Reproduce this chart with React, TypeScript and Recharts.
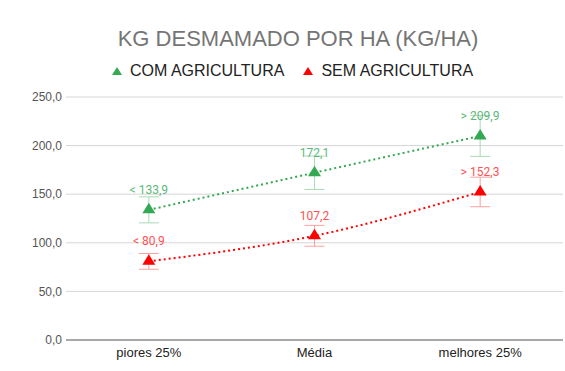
import React from 'react';
import { ComposedChart, Line, XAxis, YAxis, CartesianGrid, ErrorBar, LabelList } from 'recharts';

const categories = ['piores 25%', 'Média', 'melhores 25%'];
const comAgricultura = [133.9, 172.1, 209.9];
const semAgricultura = [80.9, 107.2, 152.3];
const comErro = [13.4, 17.2, 21.0];
const semErro = [8.1, 10.7, 15.2];
const comRotulos = ['< 133,9', '172,1', '> 209,9'];
const semRotulos = ['< 80,9', '107,2', '> 152,3'];
const yTicks = [0, 50, 100, 150, 200, 250];
const titulo = 'KG DESMAMADO POR HA (KG/HA)';
const serieNomes = ['COM AGRICULTURA', 'SEM AGRICULTURA'];

const GREEN = '#34a853';
const RED = '#ff0000';
const GREEN_LABEL = '#5cb97b';
const RED_LABEL = '#ff5252';
const GREEN_ERR = '#a9dbb7';
const RED_ERR = '#ff9f9f';

const data = categories.map((c, i) => ({
  cat: c,
  com: comAgricultura[i],
  sem: semAgricultura[i],
  comErr: comErro[i],
  semErr: semErro[i],
  comLbl: comRotulos[i],
  semLbl: semRotulos[i],
}));

const FONT = 'Arial, "Liberation Sans", sans-serif';
const LFONT = 'Roboto, Arial, sans-serif';

const Triangle = (color: string) => (props: any) => {
  const { cx, cy } = props;
  if (cx == null || cy == null) return null;
  const p = `${cx - 6.5},${cy + 3.5} ${cx + 6.5},${cy + 3.5} ${cx},${cy - 7}`;
  return <polygon key={`t-${cx}-${cy}`} points={p} fill={color} />;
};

const makeLabel = (color: string) => (props: any) => {
  const { x, y, value } = props;
  return (
    <text x={x} y={y - 20} textAnchor="middle" dominantBaseline="central" fill={color} fontSize={12} fontFamily={LFONT}>
      {value}
    </text>
  );
};

const fmt = (v: number) => v.toFixed(1).replace('.', ',');

const LegendTri = ({ color }: { color: string }) => (
  <svg width={12} height={10} style={{ display: 'block' }}>
    <polygon points="1,9 11,9 6,1" fill={color} />
  </svg>
);

export default function App() {
  return (
    <div style={{ position: 'absolute', left: 0, top: 0, width: 565, height: 371, background: '#fff', fontFamily: FONT }}>
      <div style={{ position: 'absolute', left: 0, top: 26, width: 596, textAlign: 'center', fontSize: 22, color: '#757575', lineHeight: '26px', whiteSpace: 'nowrap' }}>
        {titulo}
      </div>
      <div style={{ position: 'absolute', left: 111, top: 62, display: 'flex', alignItems: 'center', fontSize: 16, color: '#222', lineHeight: '18px', whiteSpace: 'nowrap' }}>
        <LegendTri color={GREEN} />
        <span style={{ marginLeft: 7 }}>{serieNomes[0]}</span>
        <span style={{ width: 18 }} />
        <LegendTri color={RED} />
        <span style={{ marginLeft: 7 }}>{serieNomes[1]}</span>
      </div>
      <ComposedChart width={565} height={371} data={data} margin={{ top: 97, right: 2, bottom: 1, left: 0 }}>
        <CartesianGrid vertical={false} stroke="#d6d6d6" />
        <XAxis
          dataKey="cat"
          scale="band"
          height={30}
          tickLine={false}
          axisLine={{ stroke: '#666', strokeWidth: 1 }}
          tickSize={0}
          tickMargin={8}
          tick={{ fill: '#222', fontSize: 13, fontFamily: FONT }}
          interval={0}
        />
        <YAxis
          domain={[0, 250]}
          ticks={yTicks}
          width={66}
          tickLine={false}
          axisLine={false}
          tickSize={2}
          tickMargin={2}
          tickFormatter={fmt}
          tick={{ fill: '#555', fontSize: 12, fontFamily: FONT }}
        />
        <Line
          dataKey="com"
          type="monotone"
          stroke={GREEN}
          strokeWidth={2}
          strokeDasharray="2 3"
          dot={Triangle(GREEN)}
          activeDot={false}
          isAnimationActive={false}
        >
          <ErrorBar dataKey="comErr" width={10} stroke={GREEN_ERR} strokeWidth={1} direction="y" />
          <LabelList dataKey="comLbl" content={makeLabel(GREEN_LABEL)} />
        </Line>
        <Line
          dataKey="sem"
          type="monotone"
          stroke={RED}
          strokeWidth={2}
          strokeDasharray="2 3"
          dot={Triangle(RED)}
          activeDot={false}
          isAnimationActive={false}
        >
          <ErrorBar dataKey="semErr" width={10} stroke={RED_ERR} strokeWidth={1} direction="y" />
          <LabelList dataKey="semLbl" content={makeLabel(RED_LABEL)} />
        </Line>
      </ComposedChart>
    </div>
  );
}
